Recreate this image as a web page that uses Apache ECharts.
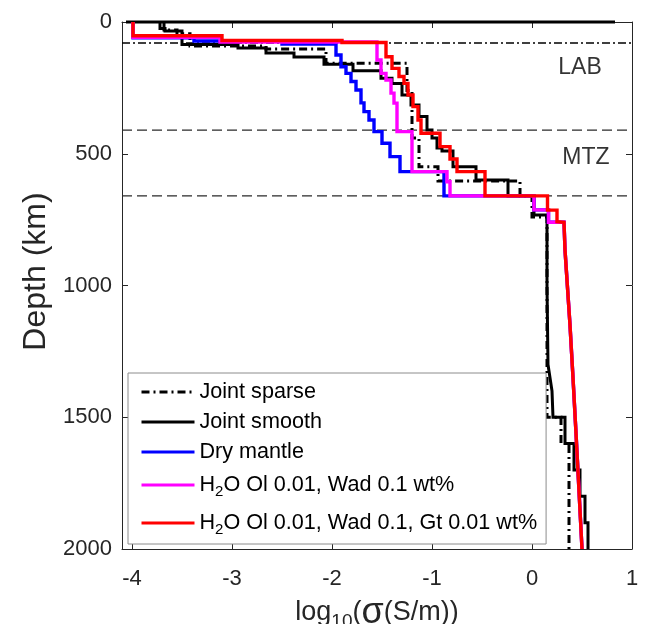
<!DOCTYPE html>
<html><head><meta charset="utf-8">
<script src="https://cdn.jsdelivr.net/npm/echarts@6/dist/echarts.min.js"></script>
<style>html,body{margin:0;padding:0;background:#fff}#c{width:652px;height:624px}</style>
</head><body><div id="c"></div>
<script>
// ---- axes ----
const xRange = [-4.1, 1];
const yRange = [0, 2000];
const xTicks = [-4, -3, -2, -1, 0, 1];
const yTicks = [0, 500, 1000, 1500, 2000];

// ---- reference boundaries (depth, km) ----
const labDepth = 80;
const mtzDepths = [410, 660];
const annotations = [
  { text: 'LAB', x: 0.48, depth: 175 },
  { text: 'MTZ', x: 0.54, depth: 516 }
];

// ---- profiles: [log10 sigma, depth km] vertices ----
const jointSparse = [[-3.68,0],[-3.68,30],[-3.55,30],[-3.55,45],[-3.42,45],[-3.42,91],[-2.66,91],[-2.66,102],
  [-2.06,102],[-2.06,157],[-1.25,157],[-1.25,260],[-1.20,260],[-1.20,440],[-1.13,440],[-1.13,549],
  [-0.94,549],[-0.94,603],[-0.12,603],[-0.12,660],[0.00,660],[0.00,740],[0.15,740],[0.15,1500],
  [0.29,1500],[0.29,1600],[0.37,1600],[0.37,2000]];

const jointSmooth = [[0.83,0],[-4.06,0],[-3.72,0],[-3.72,25],[-3.67,25],[-3.67,34],[-3.50,34],[-3.50,85],
  [-2.94,85],[-2.94,99],[-2.66,99],[-2.66,118],[-2.38,118],[-2.38,133],[-2.08,133],[-2.08,160],
  [-1.79,160],[-1.79,185],[-1.51,185],[-1.51,213],[-1.40,213],[-1.40,233],[-1.30,233],[-1.30,277],
  [-1.21,277],[-1.21,315],[-1.13,315],[-1.13,359],[-1.05,359],[-1.05,410],[-1.00,410],[-1.00,440],
  [-0.95,440],[-0.95,478],[-0.90,478],[-0.90,490],[-0.79,490],[-0.79,549],[-0.56,549],[-0.56,600],
  [-0.24,600],[-0.24,660],[0.02,660],[0.02,732],[0.15,732],[0.15,1000],[0.16,1000],[0.16,1300],
  [0.18,1300],[0.18,1350],[0.20,1350],[0.20,1400],[0.21,1400],[0.21,1500],[0.33,1500],[0.33,1600],
  [0.42,1600],[0.42,1700],[0.48,1700],[0.48,1800],[0.53,1800],[0.53,1900],[0.56,1900],[0.56,2000]];

const lowerMantle = [[0.32,760],[0.33,865],[0.35,980],[0.38,1150],[0.41,1350],[0.44,1560],[0.47,1780],[0.50,2000]];

const dryMantle = [[-3.99,0],[-3.99,60],[-3.38,60],[-3.38,72],[-2.50,72],[-2.50,84],[-1.96,84],[-1.96,125],
  [-1.91,125],[-1.91,170],[-1.86,170],[-1.86,195],[-1.81,195],[-1.81,226],[-1.76,226],[-1.76,258],
  [-1.71,258],[-1.71,307],[-1.68,307],[-1.68,340],[-1.63,340],[-1.63,372],[-1.58,372],[-1.58,416],
  [-1.50,416],[-1.50,460],[-1.42,460],[-1.42,511],[-1.32,511],[-1.32,568],[-0.88,568],[-0.88,660],
  [0.02,660],[0.02,713],[0.165,713],[0.165,760]].concat(lowerMantle);

const wetOlWad = [[-3.99,0],[-3.99,58],[-3.12,58],[-3.12,76],[-1.55,76],[-1.55,144],[-1.51,144],[-1.51,195],
  [-1.46,195],[-1.46,220],[-1.41,220],[-1.41,270],[-1.38,270],[-1.38,308],[-1.35,308],[-1.35,416],
  [-1.20,416],[-1.20,568],[-0.85,568],[-0.85,606],[-0.82,606],[-0.82,660],[0.02,660],[0.02,713],
  [0.165,713],[0.165,760]].concat(lowerMantle);

const wetOlWadGt = [[-3.99,0],[-3.99,52],[-3.10,52],[-3.10,70],[-1.90,70],[-1.90,78],[-1.46,78],[-1.46,132],
  [-1.40,132],[-1.40,176],[-1.33,176],[-1.33,207],[-1.28,207],[-1.28,233],[-1.24,233],[-1.24,277],
  [-1.19,277],[-1.19,321],[-1.14,321],[-1.14,372],[-1.11,372],[-1.11,422],[-0.92,422],[-0.92,473],
  [-0.82,473],[-0.82,520],[-0.75,520],[-0.75,568],[-0.47,568],[-0.47,660],[0.155,660],[0.155,714],
  [0.25,714],[0.25,758]].concat(lowerMantle);

const seriesNames = ['Joint sparse', 'Joint smooth', 'Dry mantle',
  'H2O Ol 0.01, Wad 0.1 wt%', 'H2O Ol 0.01, Wad 0.1, Gt 0.01 wt%'];
const seriesData = [jointSparse, jointSmooth, dryMantle, wetOlWad, wetOlWadGt];
const seriesColors = ['#000000', '#000000', '#0000ff', '#ff00ff', '#ff0000'];
const seriesDash = [[8, 4, 2, 4], 'solid', 'solid', 'solid', 'solid'];
const seriesWidth = [3, 3, 3.4, 3.4, 3.4];

const FONT = '"Liberation Sans", Arial, Helvetica, sans-serif';
const AX = '#262626';

const chart = echarts.init(document.getElementById('c'), null, { renderer: 'canvas' });

const series = [];
series.push({
  type: 'line', name: 'LABline', data: [[xRange[0], labDepth], [xRange[1], labDepth]],
  symbol: 'none', silent: true, animation: false, clip: false,
  lineStyle: { color: '#000', width: 1.5, type: [8, 3, 2, 3] }, z: 1
});
mtzDepths.forEach((d, i) => series.push({
  type: 'line', name: 'mtz' + i, data: [[xRange[0], d], [xRange[1], d]],
  symbol: 'none', silent: true, animation: false, clip: false,
  lineStyle: { color: '#2a2a2a', width: 1.2, type: [10, 5] }, z: 1
}));
seriesNames.forEach((n, i) => series.push({
  type: 'line', name: n, data: seriesData[i], symbol: 'none', showSymbol: false, silent: true,
  animation: false, clip: false, color: seriesColors[i],
  itemStyle: { color: seriesColors[i] },
  lineStyle: { color: seriesColors[i], width: seriesWidth[i], type: seriesDash[i], cap: 'butt', join: 'miter' },
  z: 2 + i
}));
series.push({
  type: 'scatter', name: 'ann', symbolSize: 0, silent: true, animation: false,
  data: annotations.map(a => ({ value: [a.x, a.depth], name: a.text })),
  label: { show: true, position: 'inside', formatter: p => p.name,
    fontFamily: FONT, fontSize: 23, color: '#000' }
});

function legendFmt(name) {
  const idx = seriesNames.indexOf(name);
  if (name.indexOf('H2O') === 0) {
    const k = idx === 3 ? '4' : '5';
    return '{m' + k + '|H}{s' + k + '|2}{m' + k + '|' + name.slice(2) + '}';
  }
  return '{n|' + name + '}';
}

const LF = 21.6;
chart.setOption({
  backgroundColor: '#fff',
  animation: false,
  grid: { left: 122, right: 20, top: 22, bottom: 75, containLabel: false, outerBoundsMode: 'none' },
  xAxis: [{
    type: 'value', min: xRange[0], max: xRange[1], position: 'bottom',
    axisLine: { show: true, onZero: false, lineStyle: { color: AX, width: 1 } },
    axisTick: { show: true, inside: true, length: 6, customValues: xTicks, lineStyle: { color: AX } },
    axisLabel: { show: true, customValues: xTicks, fontSize: 22, color: AX, fontFamily: FONT, margin: 19,
      formatter: v => String(v) },
    splitLine: { show: false },
    name: '{a|log}{s|10}{a|(}{g|σ}{a|(S/m))}', nameLocation: 'middle', nameGap: 44,
    nameTextStyle: { fontFamily: FONT, color: AX, rich: {
      a: { fontSize: 27, fontFamily: FONT, color: AX },
      s: { fontSize: 19, fontFamily: FONT, color: AX, verticalAlign: 'bottom', padding: [15, 0, 0, 0] },
      g: { fontSize: 36, fontFamily: FONT, color: AX }
    } }
  }, {
    type: 'value', min: xRange[0], max: xRange[1], position: 'top',
    axisLine: { show: true, onZero: false, lineStyle: { color: AX, width: 1 } },
    axisTick: { show: true, inside: true, length: 6, customValues: xTicks, lineStyle: { color: AX } },
    axisLabel: { show: false }, splitLine: { show: false }
  }],
  yAxis: [{
    type: 'value', min: yRange[0], max: yRange[1], interval: 500, inverse: true, position: 'left',
    axisLine: { show: true, onZero: false, lineStyle: { color: AX, width: 1 } },
    axisTick: { show: true, inside: true, length: 6, lineStyle: { color: AX } },
    axisLabel: { fontSize: 22, color: AX, fontFamily: FONT, margin: 10, formatter: v => String(v) },
    splitLine: { show: false },
    name: 'Depth (km)', nameLocation: 'middle', nameRotate: 90, nameGap: 61,
    nameTextStyle: { fontSize: 32, color: AX, fontFamily: FONT, padding: [0, 0, 0, 28] }
  }, {
    type: 'value', min: yRange[0], max: yRange[1], interval: 500, inverse: true, position: 'right',
    axisLine: { show: true, onZero: false, lineStyle: { color: AX, width: 1 } },
    axisTick: { show: true, inside: true, length: 6, lineStyle: { color: AX } },
    axisLabel: { show: false }, splitLine: { show: false }
  }],
  legend: {
    data: seriesNames, orient: 'vertical', left: 128, top: 373,
    padding: [7, 9, 4, 12], itemGap: 6, itemWidth: 53, itemHeight: 14,
    borderColor: '#8c8c8c', borderWidth: 1, backgroundColor: '#fff',
    selectedMode: false, formatter: legendFmt,
    itemStyle: { opacity: 0, borderWidth: 0 },
    lineStyle: { width: 3 },
    textStyle: { fontFamily: FONT, fontSize: LF, color: '#000', rich: {
      n: { fontFamily: FONT, fontSize: LF, color: '#000', lineHeight: 24, height: 24 },
      m4: { fontFamily: FONT, fontSize: LF, color: '#000', lineHeight: 30, height: 30 },
      s4: { fontFamily: FONT, fontSize: 15, color: '#000', lineHeight: 16, height: 16, verticalAlign: 'bottom' },
      m5: { fontFamily: FONT, fontSize: LF, color: '#000', lineHeight: 34, height: 34 },
      s5: { fontFamily: FONT, fontSize: 15, color: '#000', lineHeight: 20, height: 20, verticalAlign: 'bottom' }
    } }
  },
  series: series
});
</script></body></html>
